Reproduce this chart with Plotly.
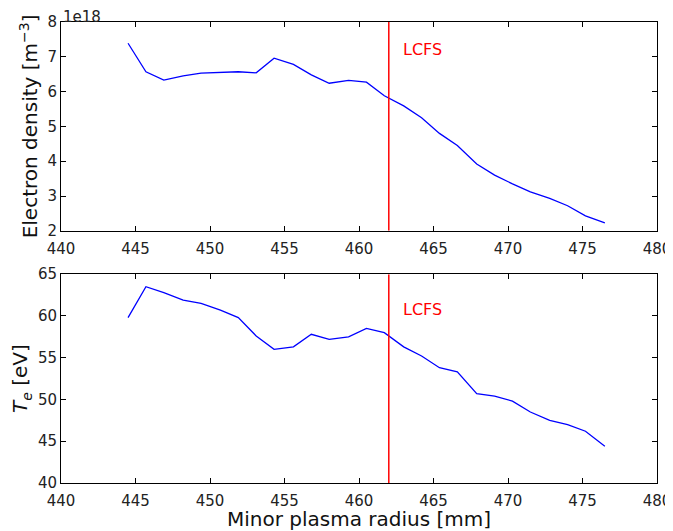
import plotly.graph_objects as go
from plotly.subplots import make_subplots

radius_mm = [444.5, 445.7, 446.9, 448.2, 449.4, 450.7, 451.9, 453.1, 454.3, 455.6,
             456.8, 458.0, 459.3, 460.5, 461.7, 463.0, 464.2, 465.4, 466.6, 467.9,
             469.1, 470.3, 471.5, 472.8, 474.0, 475.2, 476.5]
density_1e18 = [7.39, 6.57, 6.33, 6.45, 6.53, 6.54, 6.57, 6.54, 6.96, 6.78,
                6.48, 6.24, 6.32, 6.27, 5.88, 5.59, 5.25, 4.80, 4.45, 3.92,
                3.60, 3.35, 3.12, 2.93, 2.72, 2.43, 2.23]
te_ev = [59.8, 63.5, 62.8, 61.9, 61.5, 60.7, 59.8, 57.6, 56.0, 56.3,
         57.8, 57.2, 57.5, 58.5, 58.0, 56.3, 55.2, 53.8, 53.3, 50.7,
         50.4, 49.8, 48.5, 47.5, 47.0, 46.2, 44.4]
lcfs_mm = 462
x_ticks = [440, 445, 450, 455, 460, 465, 470, 475, 480]
dens_ticks = [2, 3, 4, 5, 6, 7, 8]
te_ticks = [40, 45, 50, 55, 60, 65]

FONT = "DejaVu Sans"
fig = make_subplots(rows=2, cols=1, vertical_spacing=0.094)

fig.add_trace(go.Scatter(x=radius_mm, y=density_1e18, mode="lines",
                         line=dict(color="#0000ff", width=1.3)), row=1, col=1)
fig.add_trace(go.Scatter(x=radius_mm, y=te_ev, mode="lines",
                         line=dict(color="#0000ff", width=1.3)), row=2, col=1)

for r, (lo, hi), ty in [(1, (2, 8), 7.2), (2, (40, 65), 60.8)]:
    fig.add_trace(go.Scatter(x=[lcfs_mm, lcfs_mm], y=[lo, hi], mode="lines",
                             line=dict(color="#ff0000", width=1.5)), row=r, col=1)
    fig.add_annotation(x=lcfs_mm + 0.8, y=ty, text="LCFS", showarrow=False,
                       xanchor="left", yanchor="middle",
                       font=dict(family=FONT, size=16, color="#ff0000"),
                       xref="x" if r == 1 else "x2", yref="y" if r == 1 else "y2")

axis_common = dict(showline=True, linecolor="black", linewidth=1, mirror="ticks",
                   ticks="inside", ticklen=5, tickcolor="black", showgrid=False,
                   zeroline=False, automargin=False,
                   tickfont=dict(family=FONT, size=15, color="#222"))

for r in (1, 2):
    fig.update_xaxes(range=[440, 480], tickvals=x_ticks, row=r, col=1,
                     ticklabelstandoff=4, **axis_common)
fig.update_yaxes(range=[2, 8], tickvals=dens_ticks, row=1, col=1,
                 title=dict(text="Electron density [m<sup>−3</sup>]",
                            font=dict(family=FONT, size=20, color="#111"), standoff=4),
                 **axis_common)
fig.update_yaxes(range=[40, 65], tickvals=te_ticks, row=2, col=1,
                 title=dict(text="<i>T<sub>e</sub></i> [eV]",
                            font=dict(family=FONT, size=20, color="#111"), standoff=4),
                 **axis_common)
fig.update_xaxes(row=2, col=1,
                 title=dict(text="Minor plasma radius [mm]",
                            font=dict(family=FONT, size=20, color="#111"), standoff=0))

fig.add_annotation(x=0, y=1, xref="paper", yref="paper", text="1e18", showarrow=False,
                   xanchor="left", yanchor="bottom", yshift=-6,
                   font=dict(family=FONT, size=15, color="#222"))

# the page body adds an 8px offset, so the figure is sized to the visible area
fig.update_layout(width=665, height=523, showlegend=False,
                  plot_bgcolor="white", paper_bgcolor="white",
                  margin=dict(l=53, r=16, t=14, b=48))
fig.write_html("out.html")
